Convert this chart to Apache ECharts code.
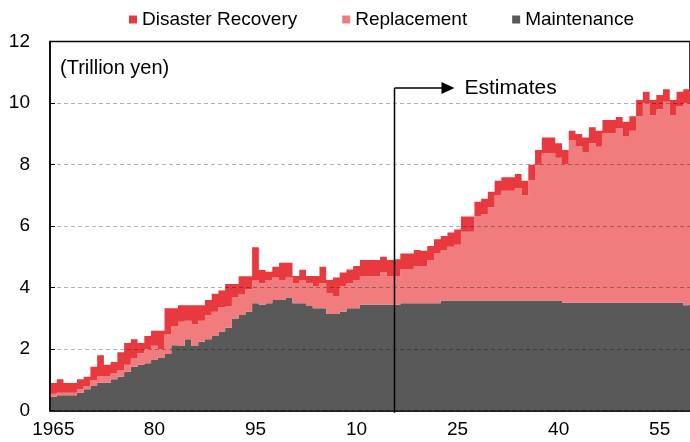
<!DOCTYPE html>
<html><head><meta charset="utf-8">
<script src="https://cdn.jsdelivr.net/npm/echarts@6/dist/echarts.min.js"></script>
<style>html,body{margin:0;padding:0;background:#fff}#c{width:690px;height:442px}</style>
</head><body><div id="c"></div>
<script>
const firstYear = 1965, lastYear = 2059;
const categories = [];
for (let y = firstYear; y <= lastYear; y++) categories.push(String(y));

const maintenance = [
0.45,0.50,0.50,0.50,0.58,0.70,0.80,0.91,0.91,1.02,
1.10,1.27,1.43,1.49,1.54,1.65,1.73,1.84,2.13,2.10,
2.32,2.10,2.24,2.32,2.43,2.57,2.70,3.00,3.11,3.22,
3.49,3.44,3.49,3.60,3.60,3.68,3.49,3.49,3.40,3.33,
3.33,3.14,3.14,3.22,3.33,3.33,3.44,3.44,3.44,3.44,
3.44,3.44,3.49,3.49,3.49,3.49,3.49,3.49,3.58,3.58,
3.58,3.58,3.58,3.58,3.58,3.58,3.58,3.58,3.58,3.58,
3.58,3.58,3.58,3.58,3.58,3.58,3.51,3.51,3.51,3.51,
3.51,3.51,3.51,3.51,3.51,3.51,3.51,3.51,3.51,3.51,
3.51,3.51,3.51,3.51,3.43];
const replacement = [
0.10,0.08,0.08,0.08,0.12,0.10,0.20,0.22,0.22,0.19,
0.22,0.22,0.27,0.38,0.46,0.46,0.27,0.64,0.62,0.79,
0.60,0.72,0.68,0.79,0.79,0.79,0.70,0.68,0.68,0.73,
0.74,0.70,0.76,0.73,0.65,0.65,0.65,0.76,0.74,0.72,
0.81,0.67,0.59,0.83,0.81,0.92,0.94,0.94,0.94,1.05,
0.94,0.94,1.10,1.10,1.21,1.20,1.41,1.62,1.64,1.75,
1.81,2.24,2.24,2.73,2.81,3.03,3.43,3.57,3.57,3.65,
3.43,3.92,4.41,4.79,4.79,4.64,4.51,5.29,5.09,4.88,
5.18,5.07,5.51,5.51,5.67,5.40,5.59,6.07,6.48,6.10,
6.29,6.53,6.10,6.39,6.56];
const disaster = [
0.35,0.44,0.32,0.32,0.32,0.30,0.43,0.67,0.36,0.37,
0.58,0.71,0.62,0.33,0.43,0.49,0.60,0.85,0.58,0.54,
0.51,0.61,0.51,0.49,0.58,0.55,0.72,0.44,0.58,0.42,
1.08,0.43,0.27,0.35,0.56,0.48,0.24,0.33,0.24,0.33,
0.54,0.44,0.60,0.44,0.45,0.45,0.52,0.52,0.52,0.51,
0.52,0.54,0.52,0.52,0.52,0.51,0.45,0.46,0.46,0.46,
0.50,0.49,0.49,0.48,0.50,0.51,0.46,0.44,0.44,0.46,
0.46,0.49,0.48,0.51,0.51,0.47,0.45,0.30,0.39,0.49,
0.52,0.52,0.43,0.43,0.37,0.48,0.47,0.52,0.38,0.49,
0.46,0.41,0.49,0.47,0.46];

const tickYears = ['1965','1980','1995','2010','2025','2040','2055'];
const tickLabels = ['1965','80','95','10','25','40','55'];
const estimateStartYear = '2016';
const unitLabel = '(Trillion yen)';
const estimateLabel = 'Estimates';

const FONT = 'Arial, "Liberation Sans", sans-serif';
const colors = {maint:'#595959', repl:'#F07C7E', dis:'#E8393F'};

const chart = echarts.init(document.getElementById('c'), null, {renderer:'canvas'});
function barSeries(name, data, color){
  return {name, type:'bar', stack:'total', data, barCategoryGap:'0%',
    large:true, largeThreshold:1,
    itemStyle:{color}, emphasis:{disabled:true}};
}
chart.setOption({
  animation:false,
  textStyle:{fontFamily:FONT},
  legend:{
    left:129, top:10, padding:0, itemWidth:8, itemHeight:8, itemGap:45, icon:'rect',
    data:['Disaster Recovery','Replacement','Maintenance'],
    textStyle:{fontSize:19, color:'#000', fontFamily:FONT}
  },
  grid:{left:50, top:41.5, right:-1, bottom:31.3, show:true, borderColor:'#000', borderWidth:1.5, backgroundColor:'transparent'},
  xAxis:{
    type:'category', data:categories, boundaryGap:true,
    axisLine:{lineStyle:{color:'#000', width:1.5}},
    axisTick:{show:false},
    axisLabel:{interval:(i,v)=>tickYears.includes(v), formatter:v=>tickLabels[tickYears.indexOf(v)],
      fontSize:19, color:'#000', margin:10, fontFamily:FONT},
    splitLine:{show:false}
  },
  yAxis:{
    type:'value', min:0, max:12, interval:2, z:5,
    axisLine:{show:true, lineStyle:{color:'#000', width:1.5}},
    axisTick:{show:true, inside:true, length:5, lineStyle:{color:'#000'}},
    axisLabel:{fontSize:19, color:'#000', margin:20, fontFamily:FONT},
    splitLine:{show:true, lineStyle:{color:'rgba(0,0,0,0.3)', type:[4,3], width:1}}
  },
  series:[
    barSeries('Maintenance', maintenance, colors.maint),
    barSeries('Replacement', replacement, colors.repl),
    barSeries('Disaster Recovery', disaster, colors.dis)
  ]
});

const idx = categories.indexOf(estimateStartYear);
const xa = chart.convertToPixel({xAxisIndex:0}, categories[idx-1]);
const xb = chart.convertToPixel({xAxisIndex:0}, categories[idx]);
const xs = Math.round((xa + xb) / 2) + 0.5;
const yTop = 88, yBot = chart.convertToPixel({yAxisIndex:0}, 0) + 2;
chart.setOption({
  graphic:[
    {type:'line', z:100, shape:{x1:xs, y1:yTop, x2:xs, y2:yBot}, style:{stroke:'#000', lineWidth:1.5}},
    {type:'line', z:100, shape:{x1:xs, y1:yTop, x2:xs+50, y2:yTop}, style:{stroke:'#000', lineWidth:1.5}},
    {type:'polygon', z:100, shape:{points:[[xs+47,yTop-6],[xs+60,yTop],[xs+47,yTop+6]]}, style:{fill:'#000'}},
    {type:'text', z:100, x:xs+70, y:yTop, style:{text:estimateLabel, font:'21px '+FONT, fill:'#000', verticalAlign:'middle', align:'left'}},
    {type:'text', z:100, x:60, y:68, style:{text:unitLabel, font:'20px '+FONT, fill:'#000', verticalAlign:'middle', align:'left'}}
  ]
});
</script></body></html>
